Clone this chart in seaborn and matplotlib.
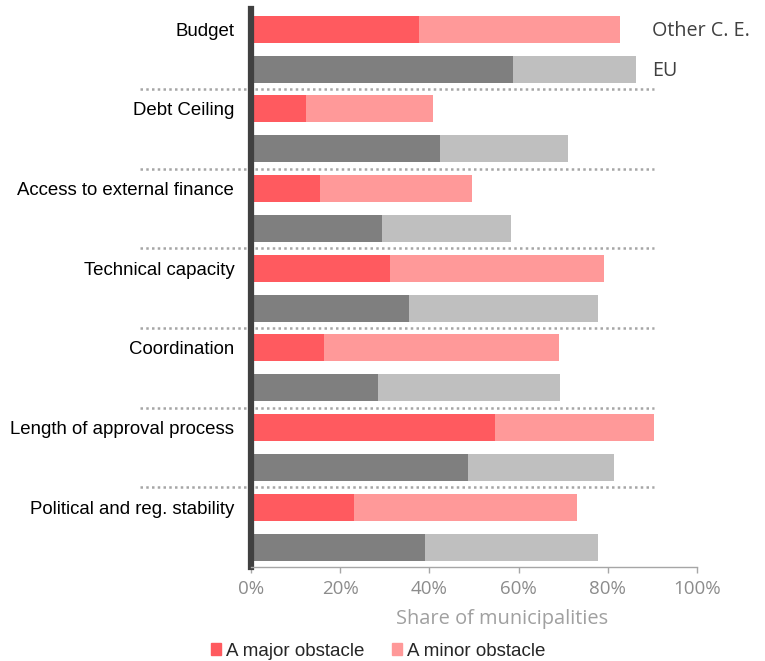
import numpy as np
import pandas as pd
import seaborn as sns
import matplotlib.pyplot as plt
import matplotlib.transforms as mtransforms
from matplotlib.patches import Patch

categories = ["Budget", "Debt Ceiling", "Access to external finance", "Technical capacity",
              "Coordination", "Length of approval process", "Political and reg. stability"]
regions = ["Other C. E.", "EU"]

# share of municipalities (%)
other_major = [37.7, 12.3, 15.5, 31.2, 16.4, 54.7, 23.0]
other_minor = [45.0, 28.4, 34.0, 48.0, 52.7, 35.7, 50.0]
eu_major = [58.7, 42.4, 29.4, 35.4, 28.5, 48.7, 39.0]
eu_minor = [27.6, 28.7, 28.9, 42.4, 40.8, 32.7, 38.8]

xticks = [0, 20, 40, 60, 80, 100]
xticklabels = ["0%", "20%", "40%", "60%", "80%", "100%"]

rows = []
for i, cat in enumerate(categories):
    rows.append([cat, "Other C. E.", other_major[i], other_minor[i]])
    rows.append([cat, "EU", eu_major[i], eu_minor[i]])
df = pd.DataFrame(rows, columns=["category", "region", "major", "minor"])
df["total"] = df["major"] + df["minor"]
df["slot"] = df["category"] + " | " + df["region"]
slot_order = list(df["slot"])

sns.set_style("white")
plt.rcParams["font.family"] = ["Liberation Sans", "DejaVu Sans"]
seg = ["Open Sans", "DejaVu Sans"]

fig = plt.figure(figsize=(7.65, 6.61), dpi=100)
ax = fig.add_axes([251 / 765, 1 - 567 / 661, 446 / 765, (567 - 9.3) / 661])

light = {"Other C. E.": "#FF9999", "EU": "#BFBFBF"}
dark = {"Other C. E.": "#FF5A5F", "EU": "#7F7F7F"}

# stacked look: full length in the light shade, major part drawn over it
sns.barplot(data=df, x="total", y="slot", hue="region", palette=light, order=slot_order,
            dodge=False, width=0.68, legend=False, ax=ax, orient="h", linewidth=0,
            saturation=1)
sns.barplot(data=df, x="major", y="slot", hue="region", palette=dark, order=slot_order,
            dodge=False, width=0.68, legend=False, ax=ax, orient="h", linewidth=0,
            saturation=1)

ax.set_xlim(0, 100)
ax.set_ylim(len(slot_order) - 0.5, -0.5)

# category labels next to the first bar of each pair
ax.set_yticks(np.arange(0, len(slot_order), 2))
ax.set_yticklabels(categories, fontsize=13.4, color="#000000")
ax.tick_params(axis="y", length=0, pad=12)

ax.set_xticks(xticks)
ax.set_xticklabels(xticklabels, fontsize=13.5, color="#8C8C8C", family=seg)
ax.tick_params(axis="x", direction="out", length=4.5, width=1, color="#A6A6A6", pad=5, bottom=True)
ax.set_xlabel("Share of municipalities", fontsize=14.4, color="#A0A0A0", family=seg)
ax.xaxis.set_label_coords((502 - 251) / 446, 1 - (619 - 9.3) / (567 - 9.3))
ax.xaxis.label.set_va("center")
ax.set_ylabel("")

for s in ["top", "right"]:
    ax.spines[s].set_visible(False)
ax.spines["left"].set_color("#404040")
ax.spines["left"].set_linewidth(4.5)
ax.spines["bottom"].set_color("#A6A6A6")
ax.spines["bottom"].set_linewidth(1)

# dotted group separators
trans = mtransforms.blended_transform_factory(ax.transAxes, ax.transData)
for k in range(1, len(categories)):
    ax.plot([-0.249, 0.903], [2 * k - 0.5, 2 * k - 0.5], transform=trans, clip_on=False,
            color="#A6A6A6", lw=1.8, linestyle=(0, (1, 1.3)), zorder=0)

# region labels at the top right
for j, r in enumerate(regions):
    ax.text(0.899, j + 0.04, r, transform=trans, va="center", ha="left", fontsize=14.2,
            color="#404040", family=seg)

handles = [Patch(color=dark["Other C. E."]), Patch(color=light["Other C. E."])]
fig.legend(handles, ["A major obstacle", "A minor obstacle"], loc="center",
           bbox_to_anchor=(378 / 765, 1 - 651 / 661), ncol=2, frameon=False,
           fontsize=13.5, handlelength=0.55, handleheight=0.55, handletextpad=0.25,
           columnspacing=1.5, borderpad=0)

fig.savefig("out.png", dpi=100)
